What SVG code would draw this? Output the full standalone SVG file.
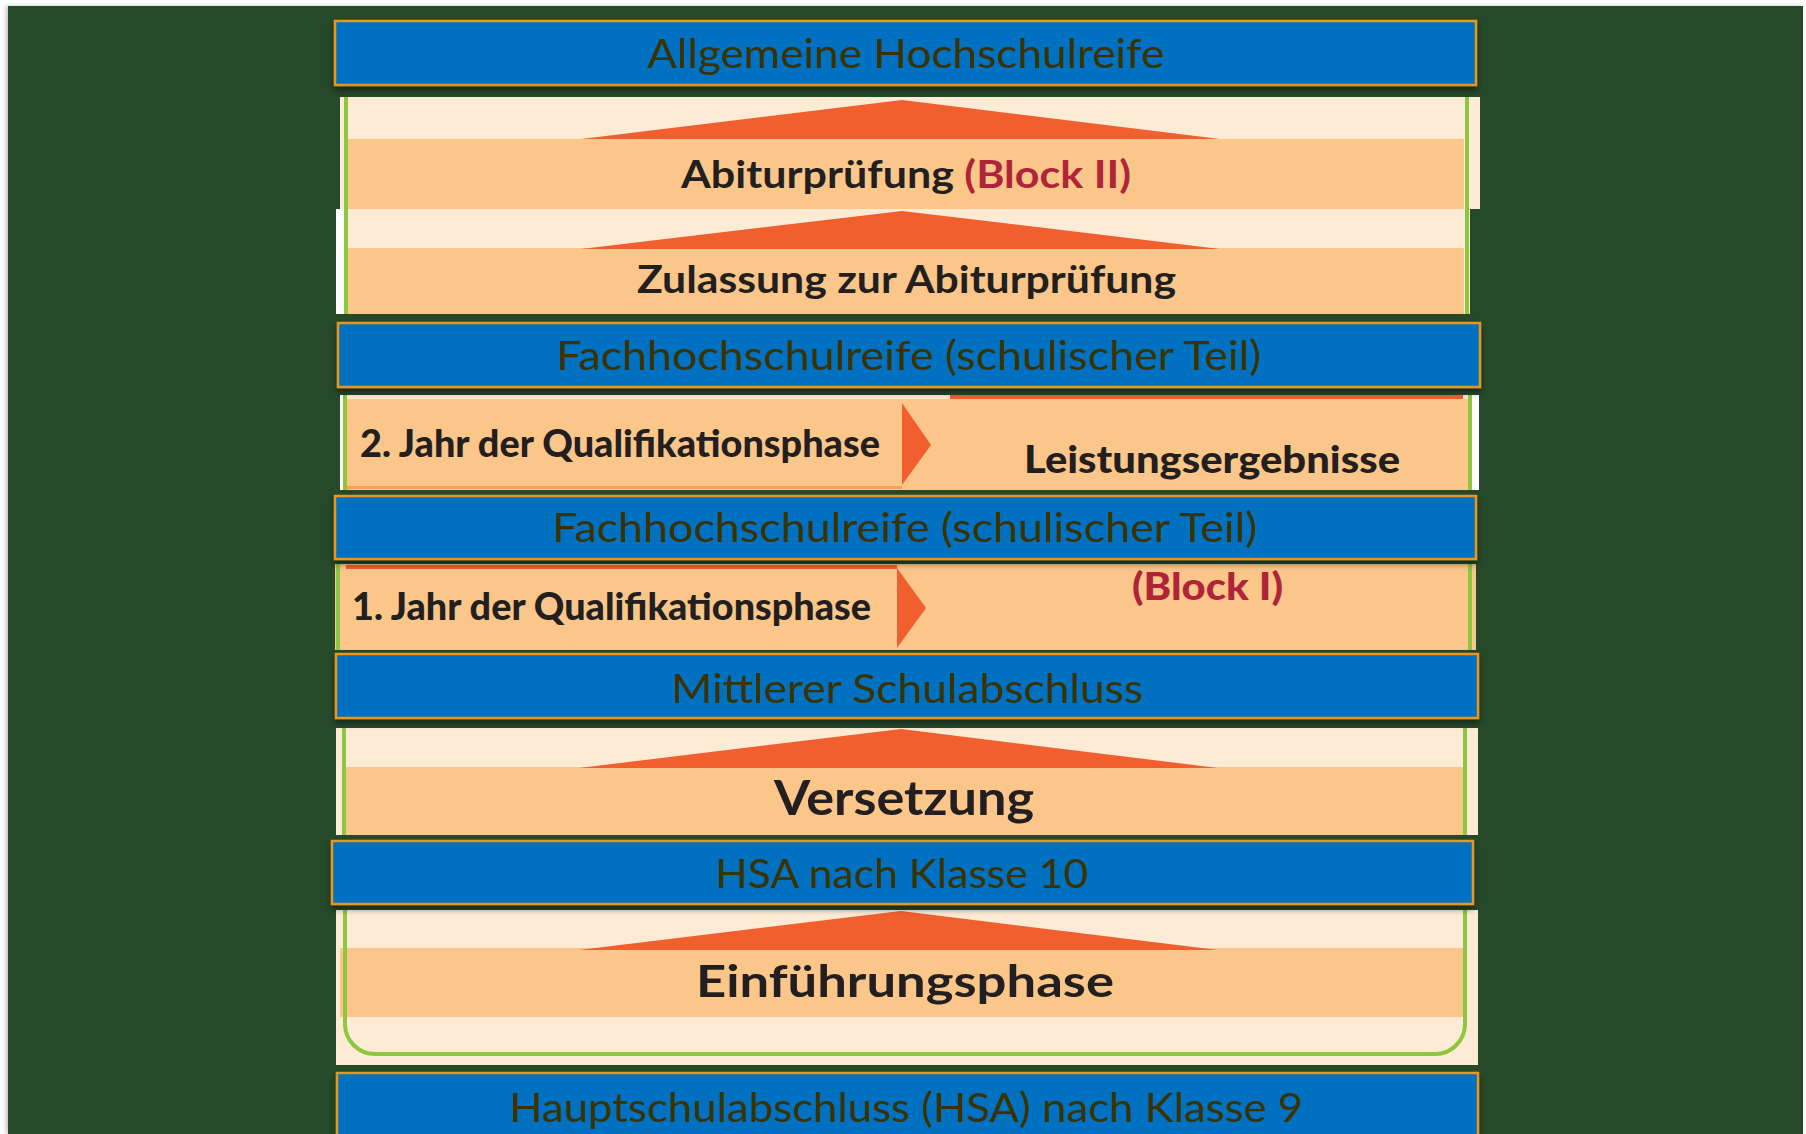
<svg xmlns="http://www.w3.org/2000/svg" width="1806" height="1134" viewBox="0 0 1806 1134">
<defs>
<filter id="sh" x="-5%" y="-30%" width="110%" height="170%">
<feDropShadow dx="0" dy="4" stdDeviation="3" flood-color="#000" flood-opacity="0.45"/>
</filter>
<filter id="pshadow" x="-2%" y="-2%" width="104%" height="104%">
<feDropShadow dx="-2" dy="0" stdDeviation="2" flood-color="#000" flood-opacity="0.25"/>
</filter>
</defs>
<style>
.bar{fill:#0070C0;stroke:#E8961E;stroke-width:2.5}
.bt{font-family:Lato,"Open Sans","Liberation Sans",sans-serif;font-size:41px;fill:#3A3300}
.cream{fill:#FDEBD6}
.band{fill:#FBC689}
.gl{stroke:#8DC63F;stroke-width:4;fill:none}
.pt{font-family:Lato,"Open Sans","Liberation Sans",sans-serif;font-weight:bold;fill:#231F20}
.heavy{font-weight:900}
.red{fill:#B0243A}
.tri{fill:#F15F2E}
</style>
<rect x="0" y="0" width="1806" height="1134" fill="#FFFFFF"/>
<rect x="8" y="6" width="1795" height="1128" fill="#254A2C" filter="url(#pshadow)"/>

<!-- Panel 1: Abiturprüfung / Zulassung -->
<g id="panel-abitur">
<rect x="340" y="97" width="1140" height="112" class="cream"/>
<rect x="348" y="139" width="1116" height="70" class="band"/>
<rect x="336" y="209" width="134" height="105" fill="#FFFFFF"/>
<rect x="344" y="209" width="1126" height="105" class="cream"/>
<rect x="348" y="248" width="1116" height="66" class="band"/>
<line x1="346" y1="97" x2="346" y2="314" class="gl"/>
<line x1="1467" y1="97" x2="1467" y2="314" class="gl"/>
<text x="681" y="188" class="pt" font-size="38" textLength="450" lengthAdjust="spacingAndGlyphs">Abiturprüfung <tspan class="red">(Block II)</tspan></text>
<text x="637" y="293" class="pt" font-size="38" textLength="539" lengthAdjust="spacingAndGlyphs">Zulassung zur Abiturprüfung</text>
</g>

<!-- Panel 2: 2. Jahr -->
<g id="panel-q2">
<rect x="340" y="395" width="1139" height="95" fill="#FFFFFF"/>
<rect x="344" y="395" width="1128" height="95" class="band"/>
<rect x="344" y="395" width="1128" height="4" class="cream"/>
<rect x="950" y="395" width="513" height="4" class="tri"/>
<rect x="346" y="486" width="556" height="3" fill="#F4A060"/>
<line x1="345" y1="395" x2="345" y2="490" class="gl"/>
<line x1="1470" y1="395" x2="1470" y2="490" class="gl"/>
<text x="360" y="457" class="pt heavy" font-size="38" textLength="520" lengthAdjust="spacingAndGlyphs">2. Jahr der Qualifikationsphase</text>
<text x="1024" y="473" class="pt heavy" font-size="38" textLength="376" lengthAdjust="spacingAndGlyphs">Leistungsergebnisse</text>
</g>

<!-- Panel 3: 1. Jahr -->
<g id="panel-q1">
<rect x="335" y="564" width="1141" height="86" class="band"/>
<rect x="346" y="565" width="551" height="4" class="tri"/>
<line x1="338" y1="564" x2="338" y2="650" class="gl"/>
<line x1="1470" y1="564" x2="1470" y2="650" class="gl"/>
<text x="352" y="620" class="pt heavy" font-size="38" textLength="519" lengthAdjust="spacingAndGlyphs">1. Jahr der Qualifikationsphase</text>
<text x="1132" y="600" class="pt heavy red" font-size="38" textLength="151" lengthAdjust="spacingAndGlyphs">(Block I)</text>
</g>

<!-- Panel 4: Versetzung -->
<g id="panel-versetzung">
<rect x="336" y="728" width="1142" height="107" class="cream"/>
<rect x="346" y="767" width="1118" height="68" class="band"/>
<line x1="344" y1="728" x2="344" y2="835" class="gl"/>
<line x1="1465" y1="728" x2="1465" y2="835" class="gl"/>
<text x="774" y="815" class="pt" font-size="48" textLength="260" lengthAdjust="spacingAndGlyphs">Versetzung</text>
</g>

<!-- Panel 5: Einführungsphase -->
<g id="panel-einfuehrung">
<rect x="336" y="910" width="1142" height="155" class="cream"/>
<rect x="340" y="948" width="1124" height="69" class="band"/>
<path d="M345 910 V1024 A30 30 0 0 0 375 1054 H1435 A30 30 0 0 0 1465 1024 V910" class="gl" stroke-width="5"/>
<text x="696" y="997" class="pt" font-size="44" textLength="418" lengthAdjust="spacingAndGlyphs">Einführungsphase</text>
</g>

<!-- Connectors: arrows -->
<g id="connectors">
<polygon points="581,139 902,100 1220,139" class="tri"/>
<polygon points="581,249 902,211 1220,249" class="tri"/>
<polygon points="902,403 931,445 902,485" class="tri"/>
<polygon points="897,568 926,608 897,648" class="tri"/>
<polygon points="579,768 901,729 1218,768" class="tri"/>
<polygon points="579,950 901,911 1218,950" class="tri"/>
</g>

<!-- Blue bars -->
<g id="bar-ahr" filter="url(#sh)">
<rect x="335" y="21" width="1141" height="64" class="bar"/>
<text x="647" y="68" class="bt" textLength="517" lengthAdjust="spacingAndGlyphs">Allgemeine Hochschulreife</text>
</g>
<g id="bar-fhr2" filter="url(#sh)">
<rect x="338" y="323" width="1142" height="64" class="bar"/>
<text x="556" y="370" class="bt" textLength="705" lengthAdjust="spacingAndGlyphs">Fachhochschulreife (schulischer Teil)</text>
</g>
<g id="bar-fhr1" filter="url(#sh)">
<rect x="335" y="496" width="1141" height="63" class="bar"/>
<text x="552" y="542" class="bt" textLength="705" lengthAdjust="spacingAndGlyphs">Fachhochschulreife (schulischer Teil)</text>
</g>
<g id="bar-msa" filter="url(#sh)">
<rect x="336" y="654" width="1142" height="64" class="bar"/>
<text x="671" y="703" class="bt" textLength="472" lengthAdjust="spacingAndGlyphs">Mittlerer Schulabschluss</text>
</g>
<g id="bar-hsa10" filter="url(#sh)">
<rect x="332" y="841" width="1141" height="63" class="bar"/>
<text x="715" y="888" class="bt" textLength="373" lengthAdjust="spacingAndGlyphs">HSA nach Klasse 10</text>
</g>
<g id="bar-hsa9" filter="url(#sh)">
<rect x="337" y="1073" width="1141" height="70" class="bar"/>
<text x="509" y="1122" class="bt" textLength="794" lengthAdjust="spacingAndGlyphs">Hauptschulabschluss (HSA) nach Klasse 9</text>
</g>
</svg>
